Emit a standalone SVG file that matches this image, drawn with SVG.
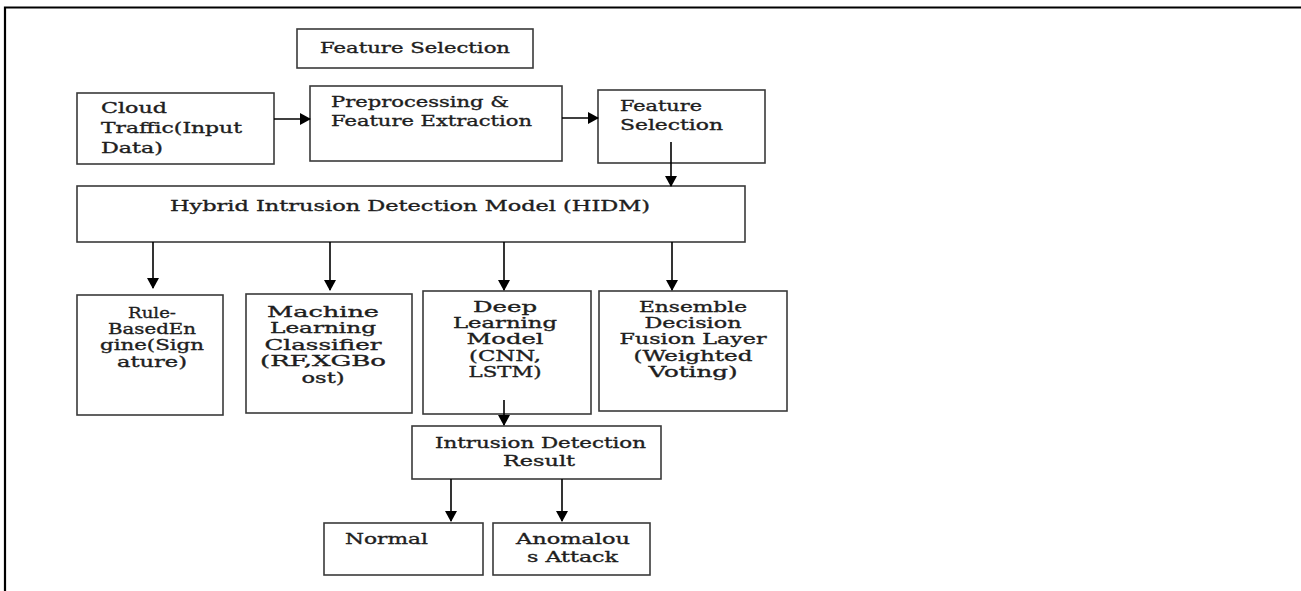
<svg xmlns="http://www.w3.org/2000/svg" width="1301" height="591" viewBox="0 0 1301 591">
<style>
  .box { fill: #ffffff; stroke: #3a3a3a; stroke-width: 1.6; }
  .t { font-family: "DejaVu Serif", "Liberation Serif", serif; font-weight: normal; fill: #1e1e1e; stroke: #1e1e1e; stroke-width: 0.35; }
  .s15 { font-size: 15px; }
  .s16 { font-size: 15px; }
  .c { text-anchor: middle; }
  .conn { stroke: #000; stroke-width: 1.6; fill: none; marker-end: url(#ah); }
</style>
<defs>
  <marker id="ah" markerUnits="userSpaceOnUse" markerWidth="11" markerHeight="12" refX="10" refY="6" orient="auto">
    <path d="M0,0 L11,6 L0,12 z" fill="#000"/>
  </marker>
</defs>
<rect width="1301" height="591" fill="#fff"/>
<path d="M5,591 V7.5 H1301" stroke="#000" stroke-width="2.2" fill="none"/>

<g id="feature-selection-top">
  <rect class="box" x="297" y="29" width="236" height="39"/>
  <text class="t s15" x="320" y="53" textLength="190" lengthAdjust="spacingAndGlyphs">Feature Selection</text>
</g>
<g id="cloud-traffic">
  <rect class="box" x="77" y="93" width="197" height="71"/>
  <text class="t s15" x="101" y="113" textLength="66" lengthAdjust="spacingAndGlyphs">Cloud</text>
  <text class="t s15" x="101" y="133" textLength="141" lengthAdjust="spacingAndGlyphs">Traffic(Input</text>
  <text class="t s15" x="101" y="153" textLength="62" lengthAdjust="spacingAndGlyphs">Data)</text>
</g>
<g id="preprocessing">
  <rect class="box" x="310" y="86" width="252" height="75"/>
  <text class="t s15" x="331" y="107" textLength="178" lengthAdjust="spacingAndGlyphs">Preprocessing &amp;</text>
  <text class="t s15" x="331" y="126" textLength="201" lengthAdjust="spacingAndGlyphs">Feature Extraction</text>
</g>
<g id="feature-selection">
  <rect class="box" x="598" y="90" width="167" height="73"/>
  <text class="t s15" x="620" y="111" textLength="82" lengthAdjust="spacingAndGlyphs">Feature</text>
  <text class="t s15" x="620" y="130" textLength="103" lengthAdjust="spacingAndGlyphs">Selection</text>
</g>
<g id="hidm">
  <rect class="box" x="77" y="186" width="668" height="56"/>
  <text class="t s15" x="170" y="211" textLength="480" lengthAdjust="spacingAndGlyphs">Hybrid Intrusion Detection Model (HIDM)</text>
</g>
<g id="rule-based">
  <rect class="box" x="77" y="295" width="146" height="120"/>
  <text class="t s16 c" x="152" y="318" textLength="48" lengthAdjust="spacingAndGlyphs">Rule-</text>
  <text class="t s16 c" x="152" y="334" textLength="88" lengthAdjust="spacingAndGlyphs">BasedEn</text>
  <text class="t s16 c" x="152" y="350" textLength="104" lengthAdjust="spacingAndGlyphs">gine(Sign</text>
  <text class="t s16 c" x="152" y="367" textLength="70" lengthAdjust="spacingAndGlyphs">ature)</text>
</g>
<g id="ml-classifier">
  <rect class="box" x="246" y="294" width="166" height="119"/>
  <text class="t s16 c" x="323" y="317" textLength="112" lengthAdjust="spacingAndGlyphs">Machine</text>
  <text class="t s16 c" x="323" y="333" textLength="106" lengthAdjust="spacingAndGlyphs">Learning</text>
  <text class="t s16 c" x="323" y="350" textLength="117" lengthAdjust="spacingAndGlyphs">Classifier</text>
  <text class="t s16 c" x="323" y="366" textLength="126" lengthAdjust="spacingAndGlyphs">(RF,XGBo</text>
  <text class="t s16 c" x="323" y="383" textLength="43" lengthAdjust="spacingAndGlyphs">ost)</text>
</g>
<g id="deep-learning">
  <rect class="box" x="423" y="291" width="168" height="123"/>
  <text class="t s16 c" x="505" y="312" textLength="64" lengthAdjust="spacingAndGlyphs">Deep</text>
  <text class="t s16 c" x="505" y="328" textLength="104" lengthAdjust="spacingAndGlyphs">Learning</text>
  <text class="t s16 c" x="505" y="344" textLength="77" lengthAdjust="spacingAndGlyphs">Model</text>
  <text class="t s16 c" x="505" y="361" textLength="72" lengthAdjust="spacingAndGlyphs">(CNN,</text>
  <text class="t s16 c" x="505" y="377" textLength="73" lengthAdjust="spacingAndGlyphs">LSTM)</text>
</g>
<g id="ensemble">
  <rect class="box" x="599" y="291" width="188" height="120"/>
  <text class="t s16 c" x="693" y="312" textLength="108" lengthAdjust="spacingAndGlyphs">Ensemble</text>
  <text class="t s16 c" x="693" y="328" textLength="97" lengthAdjust="spacingAndGlyphs">Decision</text>
  <text class="t s16 c" x="693" y="344" textLength="147" lengthAdjust="spacingAndGlyphs">Fusion Layer</text>
  <text class="t s16 c" x="693" y="361" textLength="119" lengthAdjust="spacingAndGlyphs">(Weighted</text>
  <text class="t s16 c" x="693" y="377" textLength="89" lengthAdjust="spacingAndGlyphs">Voting)</text>
</g>
<g id="intrusion-result">
  <rect class="box" x="412" y="426" width="249" height="53"/>
  <text class="t s16" x="435" y="448" textLength="211" lengthAdjust="spacingAndGlyphs">Intrusion Detection</text>
  <text class="t s16" x="503" y="466" textLength="72" lengthAdjust="spacingAndGlyphs">Result</text>
</g>
<g id="normal">
  <rect class="box" x="324" y="523" width="159" height="52"/>
  <text class="t s16" x="345" y="544" textLength="83" lengthAdjust="spacingAndGlyphs">Normal</text>
</g>
<g id="anomalous">
  <rect class="box" x="493" y="523" width="157" height="52"/>
  <text class="t s16" x="516" y="544" textLength="114" lengthAdjust="spacingAndGlyphs">Anomalou</text>
  <text class="t s16" x="527" y="562" textLength="91" lengthAdjust="spacingAndGlyphs">s Attack</text>
</g>

<g id="connectors">
  <line class="conn" x1="274" y1="119" x2="310" y2="119"/>
  <line class="conn" x1="562" y1="118" x2="598" y2="118"/>
  <line class="conn" x1="671" y1="142" x2="671" y2="186"/>
  <line class="conn" x1="153" y1="242" x2="153" y2="288"/>
  <line class="conn" x1="330" y1="242" x2="330" y2="290"/>
  <line class="conn" x1="504" y1="242" x2="504" y2="290"/>
  <line class="conn" x1="672" y1="242" x2="672" y2="290"/>
  <line class="conn" x1="504" y1="400" x2="504" y2="425"/>
  <line class="conn" x1="451" y1="479" x2="451" y2="521"/>
  <line class="conn" x1="562" y1="479" x2="562" y2="521"/>
</g>
</svg>
